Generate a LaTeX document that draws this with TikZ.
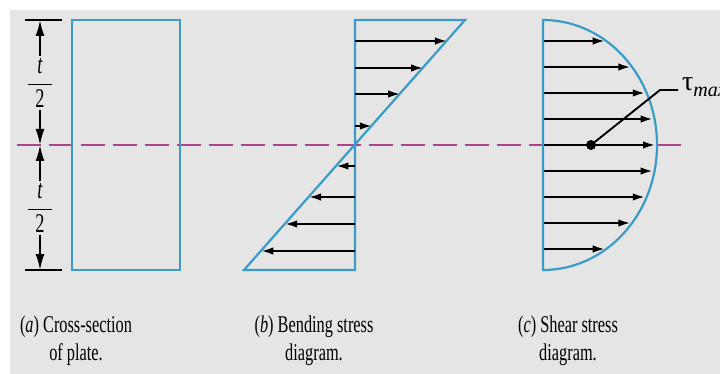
\documentclass[tikz,border=0pt]{standalone}
\usepackage{amsmath}
\usepackage{fontspec}
\setmainfont{Liberation Serif}
\newfontfamily\capfont[FakeStretch=0.68]{Liberation Serif}
\usetikzlibrary{arrows.meta,positioning}
\definecolor{bggray}{HTML}{E5E5E5}
\definecolor{outline}{HTML}{3A9CC6}
\definecolor{naxis}{HTML}{A8458C}

\begin{document}
\begin{tikzpicture}[x=1pt,y=-1pt,
    profile/.style={outline,line width=2.2pt},
    force/.style={line width=1.9pt,-{Latex[length=12pt,width=7.5pt]}},
    dim/.style={line width=1.9pt,-{Latex[length=16pt,width=9pt]}},
    frac/.style={font=\capfont\fontsize{27}{30}\selectfont,inner sep=2pt},
    caption/.style={font=\capfont\fontsize{24}{28}\selectfont,align=center}]
  % page and background
  \fill[white] (0,0) rectangle (720,374);
  \fill[bggray] (10,10) rectangle (720,374);
  \useasboundingbox (0,0) rectangle (720,374);

  % neutral axis
  \coordinate (axisL) at (17,145);
  \coordinate (axisR) at (682,145);
  \draw[naxis,line width=2.6pt,dash pattern=on 24pt off 8pt] (axisL) -- (axisR);

  % (a) cross-section of plate
  \coordinate (topA) at (40,20);
  \coordinate (midA) at (40,145);
  \coordinate (botA) at (40,270);
  \draw[line width=1.9pt] (25,20) -- (62,20);
  \draw[line width=1.9pt] (25,270) -- (62,270);
  \node[frac] (upper) at (40,83) {$\dfrac{\;\text{\itshape t}\;}{\;\text{2}\;}$};
  \node[frac] (lower) at (40,208) {$\dfrac{\;\text{\itshape t}\;}{\;\text{2}\;}$};
  \draw[dim] (upper.north) -- (topA);
  \draw[dim] (upper.south) -- (midA);
  \draw[dim] (lower.north) -- (midA);
  \draw[dim] (lower.south) -- (botA);
  \draw[profile] (72,20) rectangle (180,270);

  % (b) bending stress diagram
  \draw[profile] (355,20) -- (465,20) -- (244,270) -- (355,270) -- cycle;
  \foreach \y in {41,68,94,126,166,197,224,251}{
    \coordinate (b0) at (355,\y);
    \coordinate (b1) at ({355+(145-\y)*0.884},\y);
    \draw[force] (b0) -- (b1);
  }

  % (c) shear stress diagram
  \foreach \y in {41,67,93,119,145,171,197,223,249}{
    \coordinate (c0) at (543,\y);
    \coordinate (c1) at ({543+113*sqrt(1-((\y-145)/125)^2)-1},\y);
    \draw[force] (c0) -- (c1);
  }
  \draw[profile] (543,20) arc[start angle=-90,end angle=90,x radius=114,y radius=125] -- cycle;
  \fill (591,145) circle (5pt) coordinate (tdot);
  \node[font=\fontsize{28}{30}\selectfont,anchor=mid west,inner sep=1pt] (tmax) at (681,88)
    {τ\raisebox{-6pt}{\fontsize{20}{20}\selectfont\itshape max}};
  \draw[line width=1.9pt] (tdot) -- (660,90) -- (678,90);

  % captions
  \node[caption] (capA) at (76,341) {(\textit{a}) Cross-section\\of plate.};
  \node[caption] (capB) at (314,341) {(\textit{b}) Bending stress\\diagram.};
  \node[caption] (capC) at (568,341) {(\textit{c}) Shear stress\\diagram.};
\end{tikzpicture}
\end{document}
